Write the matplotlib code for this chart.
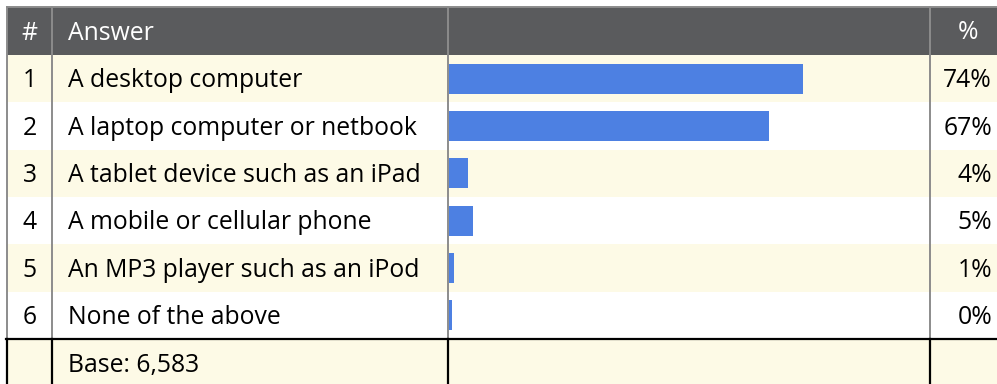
import numpy as np
import matplotlib
matplotlib.use("Agg")
import matplotlib.pyplot as plt
from matplotlib.patches import Rectangle

# survey results
answers = [
    "A desktop computer",
    "A laptop computer or netbook",
    "A tablet device such as an iPad",
    "A mobile or cellular phone",
    "An MP3 player such as an iPod",
    "None of the above",
]
pct = [74, 67, 4, 5, 1, 0]
base_n = 6583

plt.rcParams['font.family'] = ['Open Sans', 'DejaVu Sans']

W, H = 997, 384
header_top, header_bot = 7, 55
row_h = 47.33
x_left, x_num, x_bar, x_pct = 7, 52, 447.5, 929.5
bar_x0 = 449
px_per_pct = 4.78
cream = "#fdfae6"
head_col = "#5a5b5d"
sep_col = "#8c8c8c"
bar_col = "#4d80e2"
fs = 17.8

fig = plt.figure(figsize=(W / 100, H / 100), dpi=100)
ax = fig.add_axes([0, 0, 1, 1])
ax.set_xlim(0, W)
ax.set_ylim(H, 0)
ax.axis("off")

# header band
ax.add_patch(Rectangle((x_left, header_top), W - x_left, header_bot - header_top,
                       color=head_col, lw=0))
ax.plot([x_left, W], [header_top, header_top], color=sep_col, lw=1.4)
ax.text((x_left + x_num) / 2, 40, "#", color="white", fontsize=fs, ha="center", va="baseline")
ax.text(68, 40, "Answer", color="white", fontsize=fs, ha="left", va="baseline")
ax.text(968, 39, "%", color="white", fontsize=fs, ha="center", va="baseline")

n = len(answers)
tops = header_bot + row_h * np.arange(n)
centers = tops + row_h / 2

# striped rows
for i, top in enumerate(tops):
    if i % 2 == 0:
        ax.add_patch(Rectangle((x_left, top), W - x_left, row_h, color=cream, lw=0))

base_top = header_bot + row_h * n
ax.add_patch(Rectangle((x_left, base_top), W - x_left, H - base_top, color=cream, lw=0))

# bars, with a small stub so zero still shows
widths = np.maximum(np.array(pct, dtype=float), 0.6) * px_per_pct
ax.barh(centers, widths, left=bar_x0, height=30, color=bar_col, zorder=3)

for i, (ans, p) in enumerate(zip(answers, pct)):
    yb = centers[i] + 8.8
    ax.text((x_left + x_num) / 2, yb, str(i + 1), fontsize=fs,
            ha="center", va="baseline", color="black")
    ax.text(68, yb, ans, fontsize=fs, ha="left", va="baseline", color="black")
    ax.text(992, yb, f"{p}%", fontsize=fs, ha="right", va="baseline", color="black")

ax.text(68, 372, f"Base: {base_n:,}", fontsize=fs,
        ha="left", va="baseline", color="black")

# column separators
for x in [x_left, x_num, x_bar, x_pct]:
    ax.plot([x, x], [header_top, base_top], color=sep_col, lw=1.4, zorder=4)
    ax.plot([x, x], [base_top, H], color="black", lw=1.6, zorder=4)
ax.plot([x_left - 1, W], [base_top, base_top], color="black", lw=1.6, zorder=5)

fig.savefig("out.png", dpi=100)
